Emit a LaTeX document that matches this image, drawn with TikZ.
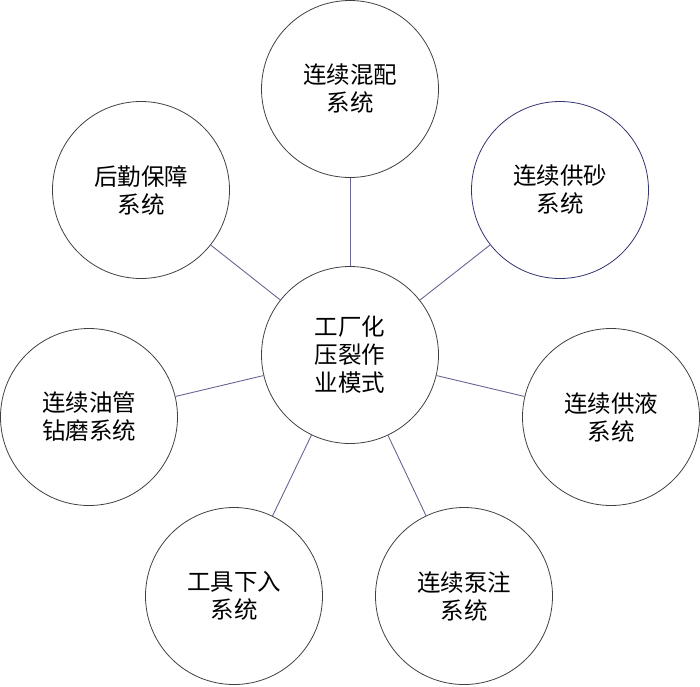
\documentclass[tikz,border=0pt]{standalone}
\usepackage{fontspec}
\newfontfamily\cjk{Noto Sans CJK SC}
\begin{document}
\begin{tikzpicture}[x=1pt,y=-1pt,
  sysbox/.style={circle,draw=black!75,line width=0.8pt,minimum size=177pt,inner sep=0pt,align=center,
    font=\cjk\fontsize{23.5}{28}\selectfont},
  link/.style={draw=blue!30!black!60,line width=0.9pt}]
\useasboundingbox (0,0) rectangle (700,686);
\node[sysbox] (c) at (350,355) {工厂化\\压裂作\\业模式};
\node[sysbox] (t) at (350,89) {连续混配\\系统};
\node[sysbox] (ul) at (141,190) {后勤保障\\系统};
\node[sysbox,draw=blue!30!black!80] (ur) at (560,190) {连续供砂\\系统};
\node[sysbox] (l) at (89,417) {连续油管\\钻磨系统};
\node[sysbox] (r) at (611,417) {连续供液\\系统};
\node[sysbox] (bl) at (234,596) {工具下入\\系统};
\node[sysbox] (br) at (464,596) {连续泵注\\系统};
\foreach \n in {t,ul,ur,l,r,bl,br} \draw[link] (c) -- (\n);
\end{tikzpicture}
\end{document}
